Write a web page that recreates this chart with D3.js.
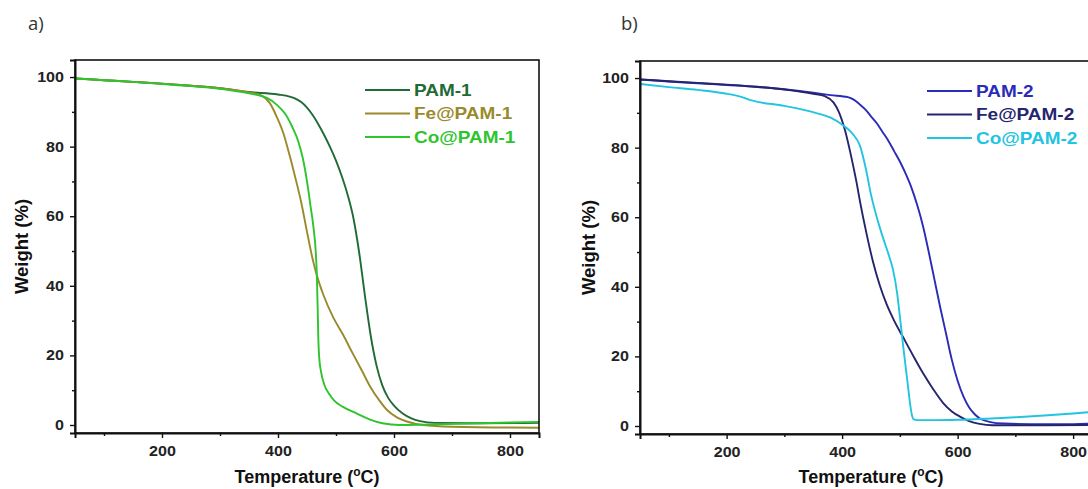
<!DOCTYPE html>
<html>
<head>
<meta charset="utf-8">
<script src="https://cdn.jsdelivr.net/npm/d3@7"></script>
<style>
  html, body { margin: 0; padding: 0; background: #fff; }
  #chart { width: 1088px; height: 489px; overflow: hidden; }
</style>
</head>
<body>
<div id="chart"></div>
<script>
// TGA curves, [temperature in °C, weight in %]
const pam1 = [[50,99.6],[100,99.1],[150,98.6],[200,98.1],[250,97.5],[300,96.8],[350,95.7],[400,95],[420,94.4],[430,93.8],[440,92.8],[450,91.2],[460,89],[470,86.3],[480,83.2],[490,79.8],[500,76],[510,71.5],[520,66.2],[530,59.5],[540,49.5],[550,37],[560,25.5],[570,17],[580,11.3],[590,7.8],[600,5.6],[615,3.3],[630,1.9],[645,1.1],[670,0.6],[750,0.5],[850,0.6]];
const fePam1 = [[50,99.6],[100,99.1],[150,98.6],[200,98.1],[250,97.5],[300,96.8],[350,95.6],[370,94.8],[386,92.5],[398,88.5],[409,84],[420,77.5],[430,71],[440,64],[450,55.5],[460,47.5],[467,43],[478,37.5],[495,31],[512,26],[529,20.5],[545,15.5],[559,11],[575,7],[588,4.3],[605,2.2],[622,1],[650,0],[700,-0.5],[850,-0.8]];
const coPam1 = [[50,99.6],[100,99.1],[150,98.6],[200,98],[250,97.4],[300,96.6],[350,95.3],[370,94.6],[381,94],[398,92],[412,89.5],[425,85.5],[435,81.5],[443,76.5],[450,70],[456,63],[461,57],[465,50],[467,43],[468.5,33],[469.5,25],[471,19.5],[474,15.5],[480,11.5],[488,9],[497,7],[512,5.2],[536,3.3],[560,1.5],[580,0.5],[610,0],[650,0.1],[750,0.5],[850,0.9]];

const pam2 = [[50,99.6],[100,99],[150,98.5],[200,98],[250,97.5],[300,96.8],[350,95.8],[380,95.1],[410,94.5],[420,93.8],[430,92.5],[440,91],[450,89],[460,87],[470,84.5],[480,82],[490,79],[500,76],[510,72.5],[520,68.5],[530,63.5],[540,57.5],[550,50],[560,42],[570,34],[580,26.5],[590,19],[600,13],[610,8.5],[620,5.3],[630,3.3],[640,2],[655,1.2],[680,0.7],[750,0.5],[800,0.5],[850,0.9]];
const fePam2 = [[50,99.6],[100,99.1],[150,98.6],[200,98.1],[250,97.5],[300,96.7],[350,95.5],[370,94.8],[385,93],[395,90],[405,85],[415,78],[425,70],[431,64.5],[442,55.5],[453,47.5],[465,40.5],[477,35],[490,30.3],[505,25.7],[522,20.5],[540,15.2],[558,10.5],[575,6.6],[590,4.2],[604,2.7],[620,1.4],[638,0.6],[660,0.2],[750,0.2],[850,0.3]];
const coPam2 = [[50,98.3],[100,97.4],[150,96.6],[200,95.5],[225,94.6],[245,93.5],[300,92],[354,90],[380,88.6],[401,86.5],[418,84],[431,80.5],[441,74],[450,66.5],[460,60],[470,54.5],[480,49.5],[488,45],[495,38.5],[500,31.5],[505,24],[510,17],[514,11.5],[518,6],[521,3],[524,1.9],[530,1.7],[560,1.7],[600,1.8],[650,2.1],[700,2.5],[750,3],[800,3.6],[850,4.3]];

const seriesNamesA = ["PAM-1", "Fe@PAM-1", "Co@PAM-1"];
const seriesNamesB = ["PAM-2", "Fe@PAM-2", "Co@PAM-2"];
const colorsA = ["#1f6b35", "#9a8a2c", "#2ec42e"];
const colorsB = ["#2b2bb8", "#25256e", "#22c4e0"];

const xTicks = [200, 400, 600, 800];
const xMinorTicks = [100, 300, 500, 700];
const yTicks = [0, 20, 40, 60, 80, 100];
const yMinorTicks = [10, 30, 50, 70, 90];

const width = 1088;
const height = 489;
const tickFont = "'Liberation Sans', Arial, sans-serif";
const stretch = 1.15; // the source figure's text is a bit wide

const svg = d3.select("#chart")
  .append("svg")
  .attr("width", width)
  .attr("height", height)
  .attr("viewBox", `0 0 ${width} ${height}`);

function drawPanel(opts) {
  const { id, left, right, top, bottom, letter, letterX, ylabelX, names, colors, data, legendX, legendY } = opts;

  const x = d3.scaleLinear().domain([50, 850]).range([left, right]);
  const y = d3.scaleLinear().domain([-2.3, 104.9]).range([bottom, top]);

  const g = svg.append("g").attr("class", `panel-${id}`);

  g.append("clipPath")
    .attr("id", `clip-${id}`)
    .append("rect")
    .attr("x", left)
    .attr("y", top)
    .attr("width", right - left)
    .attr("height", bottom - top);

  const line = d3.line()
    .x((d) => x(d[0]))
    .y((d) => y(d[1]))
    .curve(d3.curveMonotoneX);

  g.append("g")
    .attr("clip-path", `url(#clip-${id})`)
    .selectAll("path.curve")
    .data(data)
    .join("path")
    .attr("class", "curve")
    .attr("d", line)
    .attr("fill", "none")
    .attr("stroke", (_, i) => colors[i])
    .attr("stroke-width", 1.9)
    .attr("stroke-linejoin", "round");

  // frame
  g.append("rect")
    .attr("x", left)
    .attr("y", top)
    .attr("width", right - left)
    .attr("height", bottom - top)
    .attr("fill", "none")
    .attr("stroke", "#111")
    .attr("stroke-width", 1.6);

  // x axis
  const xAxis = g.append("g")
    .attr("transform", `translate(0,${bottom})`)
    .call(d3.axisBottom(x).tickValues(xTicks).tickSize(5).tickPadding(8).tickFormat(d3.format("d")));
  g.append("g")
    .attr("transform", `translate(0,${bottom})`)
    .call(d3.axisBottom(x).tickValues(xMinorTicks).tickSize(3).tickFormat(""))
    .call((a) => a.select(".domain").remove());

  // y axis
  const yAxis = g.append("g")
    .attr("transform", `translate(${left},0)`)
    .call(d3.axisLeft(y).tickValues(yTicks).tickSize(5).tickPadding(6).tickFormat(d3.format("d")));
  g.append("g")
    .attr("transform", `translate(${left},0)`)
    .call(d3.axisLeft(y).tickValues(yMinorTicks).tickSize(3).tickFormat(""))
    .call((a) => a.select(".domain").remove());

  [xAxis, yAxis].forEach((a) => {
    a.select(".domain").attr("stroke", "#111").attr("stroke-width", 2);
    a.selectAll(".tick text")
      .attr("font-family", tickFont)
      .attr("font-size", 14)
      .attr("font-weight", "bold")
      .attr("fill", "#222");
  });
  xAxis.selectAll(".tick text").attr("transform", `scale(${stretch},1)`);
  yAxis.selectAll(".tick text")
    .attr("x", null)
    .attr("transform", `translate(-11,0) scale(${stretch},1)`);
  g.selectAll(".tick line").attr("stroke", "#111").attr("stroke-width", 1.4);

  // axis titles
  const xTitle = g.append("text")
    .attr("x", (left + right) / 2)
    .attr("y", 483)
    .attr("text-anchor", "middle")
    .attr("font-family", tickFont)
    .attr("font-size", 18)
    .attr("font-weight", "bold")
    .attr("fill", "#111")
    .text("Temperature (");
  xTitle.append("tspan")
    .attr("font-size", 12)
    .attr("dy", -7)
    .text("o");
  xTitle.append("tspan")
    .attr("dy", 7)
    .text("C)");

  g.append("text")
    .attr("transform", `translate(${ylabelX},${(top + bottom) / 2}) rotate(-90)`)
    .attr("text-anchor", "middle")
    .attr("dy", "0.35em")
    .attr("font-family", tickFont)
    .attr("font-size", 18.5)
    .attr("font-weight", "bold")
    .attr("fill", "#111")
    .text("Weight (%)");

  // panel letter
  g.append("text")
    .attr("x", letterX)
    .attr("y", 30)
    .attr("font-family", "'Open Sans', 'Noto Sans', sans-serif")
    .attr("font-size", 18.5)
    .attr("fill", "#333")
    .text(letter);

  // legend
  const legend = g.append("g")
    .attr("transform", `translate(${legendX},${legendY})`);
  const rows = legend.selectAll("g.legend-row")
    .data(names)
    .join("g")
    .attr("class", "legend-row")
    .attr("transform", (_, i) => `translate(0,${i * 23.5})`);
  rows.append("line")
    .attr("x1", 0)
    .attr("x2", 45)
    .attr("stroke", (_, i) => colors[i])
    .attr("stroke-width", 1.9);
  rows.append("text")
    .attr("transform", `translate(49,0) scale(${stretch},1)`)
    .attr("dy", "0.36em")
    .attr("font-family", tickFont)
    .attr("font-size", 16.5)
    .attr("font-weight", "bold")
    .attr("fill", (_, i) => colors[i])
    .text((d) => d);
}

drawPanel({
  id: "a", left: 75, right: 539, top: 60, bottom: 433,
  letter: "a)", letterX: 28, ylabelX: 22,
  names: seriesNamesA, colors: colorsA, data: [pam1, fePam1, coPam1],
  legendX: 365, legendY: 90
});

drawPanel({
  id: "b", left: 640, right: 1102, top: 61, bottom: 434,
  letter: "b)", letterX: 621, ylabelX: 589,
  names: seriesNamesB, colors: colorsB, data: [pam2, fePam2, coPam2],
  legendX: 927, legendY: 91
});
</script>
</body>
</html>
